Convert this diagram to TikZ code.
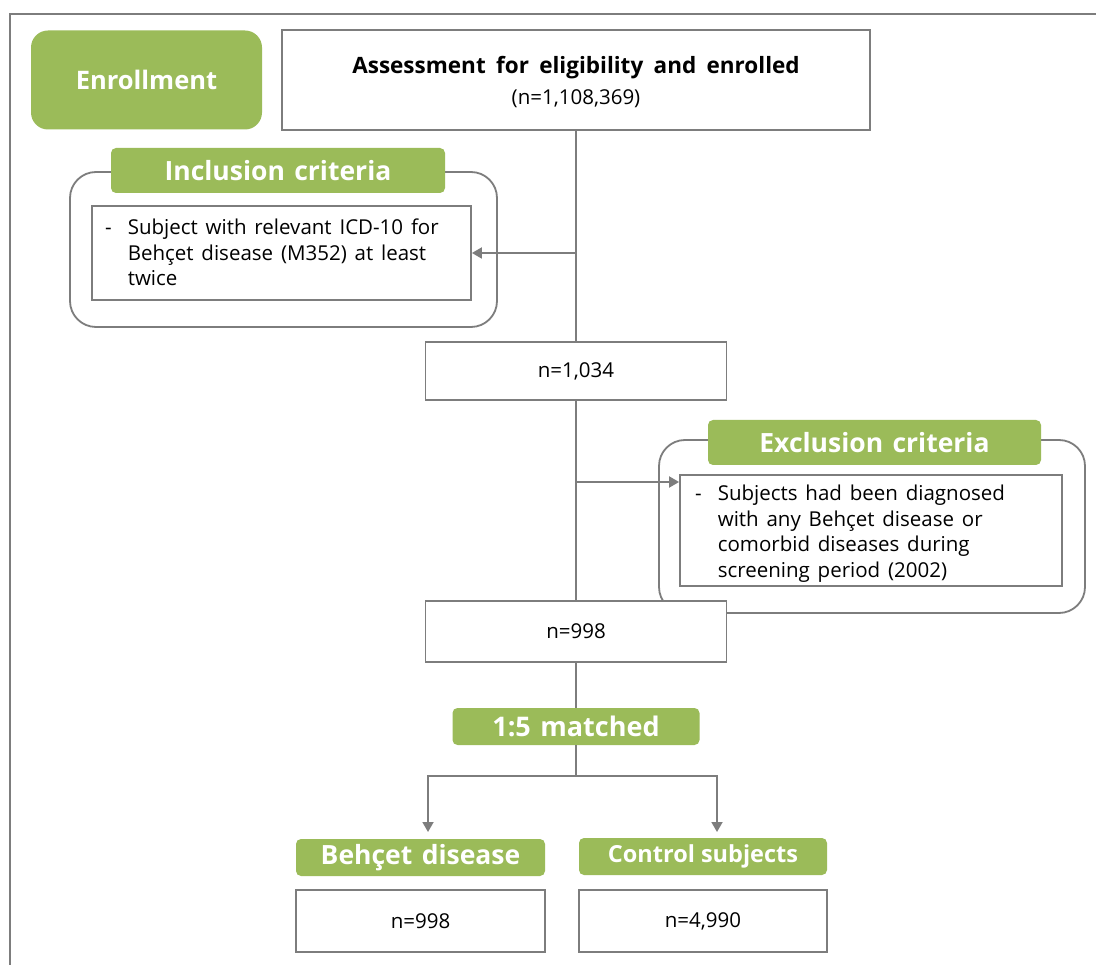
\documentclass[tikz,border=0pt]{standalone}
\usepackage{fontspec}
\setmainfont{Open Sans}
\usetikzlibrary{arrows.meta}
\definecolor{grn}{RGB}{155,187,89}
\definecolor{ln}{RGB}{125,125,125}
\newcommand\ws{\ \hspace{2.5pt}}
\begin{document}
\begin{tikzpicture}[x=1pt,y=-1pt,
  frame/.style={draw=ln, line width=2pt},
  box/.style={draw=ln, line width=1.8pt, fill=white, inner sep=0pt, align=center},
  grp/.style={draw=ln, line width=1.8pt, rounded corners=26pt},
  lab/.style={fill=grn, rounded corners=5pt, text=white, inner sep=0pt, font=\fontsize{26.5}{30}\selectfont\bfseries},
  conn/.style={draw=ln, line width=1.8pt},
  arr/.style={conn, -{Triangle[width=11pt,length=10pt]}},
  body/.style={font=\fontsize{20.5}{25.5}\selectfont}
]
\useasboundingbox (0,0) rectangle (1096,965);
\fill[white] (0,0) rectangle (1096,965);
\coordinate (f0) at (10,965);
\coordinate (f1) at (10,14);
\coordinate (f2) at (1096,14);
\draw[frame] (f0) -- (f1) -- (f2);

% enrollment
\node[lab, rounded corners=17pt, minimum width=231pt, minimum height=99pt, font=\fontsize{25.5}{30}\selectfont\bfseries] (enr) at (146.5,80) {Enrollment};
\node[box, minimum width=588pt, minimum height=100pt] (assess) at (576,80) {};
\node[inner sep=0pt, font=\fontsize{22.5}{26}\selectfont\bfseries] (asst) at (576,68) {Assessment\ws\hspace{2pt}for\ws\hspace{2pt}eligibility\ws\hspace{2pt}and\ws\hspace{2pt}enrolled};
\node[inner sep=0pt, body] (assn) at (576,99) {(n=1,108,369)};

% inclusion group
\draw[grp] (70,172) rectangle (497,327);
\node[lab, minimum width=334pt, minimum height=45pt] (inclab) at (278,170.5) {Inclusion\ws criteria};
\node[box, minimum width=379pt, minimum height=94pt] (incbox) at (281.5,253) {};
\node[body, anchor=west, inner sep=0pt] (inctxt) at (105,255)
  {\begin{tabular}{@{}l@{\hspace{16pt}}l@{}}
   - & Subject\ws with\ws relevant\ws ICD-10\ws for\\
     & Behçet\ws disease\ws (M352)\ws at\ws least\\
     & twice
   \end{tabular}};

% n = 1,034
\node[box, body, minimum width=301pt, minimum height=58pt] (n1034) at (576,371) {n=1,034};

% exclusion group
\draw[grp] (659,440) rectangle (1085,613);
\node[lab, minimum width=333pt, minimum height=45pt] (exclab) at (874.5,442.5) {Exclusion\ws criteria};
\node[box, minimum width=382pt, minimum height=111pt] (excbox) at (871,530.5) {};
\node[body, anchor=west, inner sep=0pt] (exctxt) at (695,534)
  {\begin{tabular}{@{}l@{\hspace{16pt}}l@{}}
   - & Subjects\ws had\ws been\ws diagnosed\\
     & with\ws any\ws Behçet\ws disease\ws or\\
     & comorbid\ws diseases\ws during\\
     & screening\ws period\ws (2002)
   \end{tabular}};

% n = 998
\node[box, body, minimum width=301pt, minimum height=61pt] (n998) at (576,631.5) {n=998};

% matched
\node[lab, minimum width=247pt, minimum height=37pt, font=\fontsize{27}{30}\selectfont\bfseries] (matched) at (576,726.5) {1:5\ws matched};

% groups
\node[lab, minimum width=249pt, minimum height=37pt] (bdlab) at (420.5,857.5) {Behçet\ws disease};
\node[lab, minimum width=248pt, minimum height=37pt, font=\fontsize{23.5}{26}\selectfont\bfseries] (ctlab) at (703,856.5) {Control subjects};
\node[box, body, minimum width=249pt, minimum height=62pt] (bdbox) at (420.5,921) {n=998};
\node[box, body, minimum width=248pt, minimum height=62pt] (ctbox) at (703,921) {n=4,990};

% connectors
\coordinate (j1) at (576,253);
\coordinate (j2) at (576,482);
\coordinate (jb) at (576,776);
\coordinate (bl) at (428,776);
\coordinate (br) at (717,776);
\coordinate (blt) at (428,832);
\coordinate (brt) at (717,832);
\draw[conn] (assess.south) -- (n1034.north);
\draw[conn] (n1034.south) -- (n998.north);
\draw[conn] (n998.south) -- (matched.north);
\draw[conn] (matched.south) -- (jb);
\draw[arr] (j1) -- (incbox.east);
\draw[arr] (j2) -- (excbox.west |- j2);
\draw[arr] (jb) -- (bl) -- (blt);
\draw[arr] (jb) -- (br) -- (brt);
\end{tikzpicture}
\end{document}
